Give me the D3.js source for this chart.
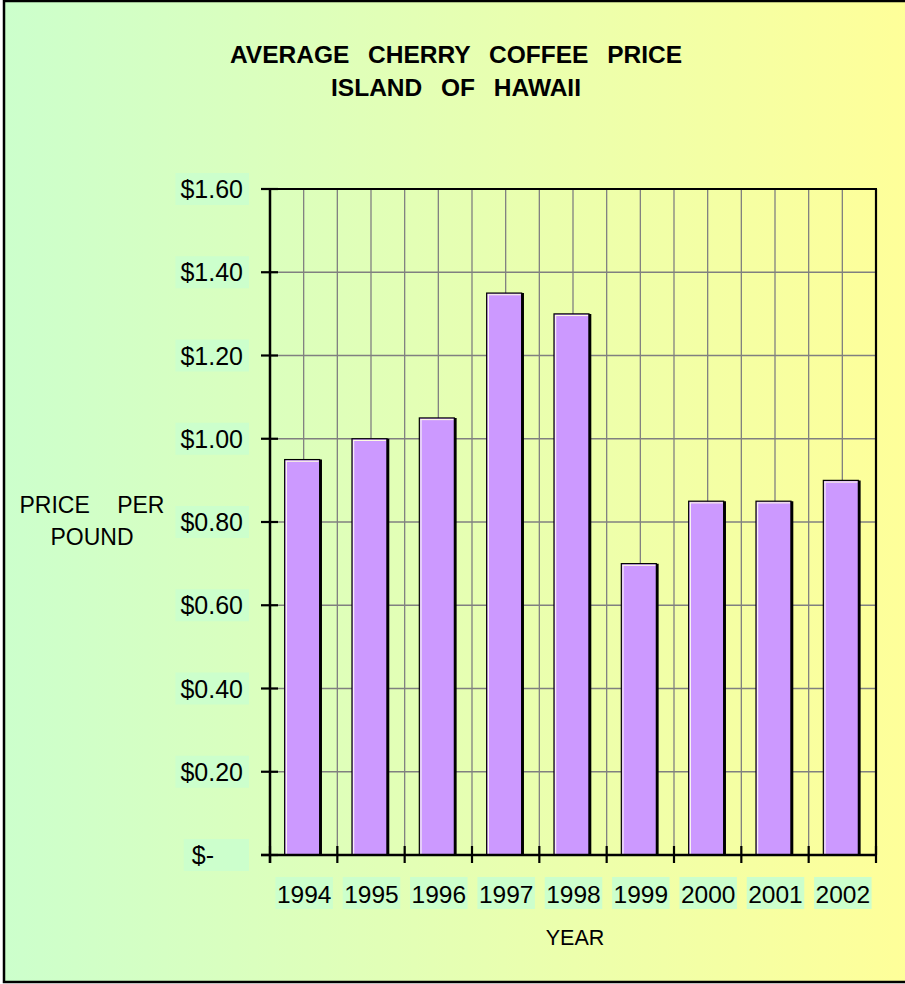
<!DOCTYPE html>
<html>
<head>
<meta charset="utf-8">
<script src="https://cdn.jsdelivr.net/npm/d3@7/dist/d3.min.js"></script>
<style>
  html, body { margin: 0; padding: 0; background: #fff; }
  svg { display: block; font-family: "Liberation Sans", Arial, sans-serif; }
</style>
</head>
<body>
<svg id="chart" width="905" height="984"></svg>
<script>
const titleLines = ["AVERAGE CHERRY COFFEE PRICE", "ISLAND OF HAWAII"];
const yTitleLines = ["PRICE PER", "POUND"];
const xTitle = "YEAR";
const categories = ["1994", "1995", "1996", "1997", "1998", "1999", "2000", "2001", "2002"];
const prices = [0.95, 1.00, 1.05, 1.35, 1.30, 0.70, 0.85, 0.85, 0.90];
const yTicks = [0, 0.2, 0.4, 0.6, 0.8, 1.0, 1.2, 1.4, 1.6];

const svg = d3.select("#chart");
const W = 905, H = 984;
const plot = { left: 270, right: 876, top: 189, bottom: 855 };

// background gradient
const defs = svg.append("defs");
const grad = defs.append("linearGradient").attr("id", "bg").attr("x1", "0%").attr("x2", "100%").attr("y1", "0%").attr("y2", "0%");
grad.append("stop").attr("offset", "0%").attr("stop-color", "#CCFFCC");
grad.append("stop").attr("offset", "100%").attr("stop-color", "#FFFF99");
svg.append("rect").attr("x", 4).attr("y", 1).attr("width", W + 4).attr("height", 981)
  .attr("fill", "url(#bg)").attr("stroke", "#000").attr("stroke-width", 2.5);

const x = d3.scaleBand().domain(categories).range([plot.left, plot.right])
  .paddingInner(0.48).paddingOuter(0.24);
const y = d3.scaleLinear().domain([0, 1.6]).range([plot.bottom, plot.top]);
const step = x.step();
const boundary = i => plot.left + i * step;
const center = c => x(c) + x.bandwidth() / 2;

// gridlines
const grid = svg.append("g").attr("stroke", "#808080").attr("stroke-width", 1.3);
const vLines = [];
categories.forEach((c, i) => { vLines.push(boundary(i)); vLines.push(center(c)); });
vLines.push(boundary(categories.length));
grid.selectAll("line.v").data(vLines).join("line").attr("class", "v")
  .attr("x1", d => d).attr("x2", d => d).attr("y1", plot.top).attr("y2", plot.bottom);
grid.selectAll("line.h").data(yTicks).join("line").attr("class", "h")
  .attr("x1", plot.left).attr("x2", plot.right).attr("y1", d => y(d)).attr("y2", d => y(d));

// bars
const bars = svg.append("g");
const bw = x.bandwidth();
const data = categories.map((c, i) => ({ c, v: prices[i] }));
const bg = bars.selectAll("g").data(data).join("g");
bg.append("rect")
  .attr("x", d => x(d.c) - 1.5).attr("y", d => y(d.v))
  .attr("width", bw).attr("height", d => y(0) - y(d.v))
  .attr("fill", "#CC99FF").attr("stroke", "#000").attr("stroke-width", 1.2);
bg.append("line")
  .attr("x1", d => x(d.c) - 1.5 + 1.7).attr("x2", d => x(d.c) - 1.5 + 1.7)
  .attr("y1", d => y(d.v) + 1.5).attr("y2", y(0))
  .attr("stroke", "#FFFFF0").attr("stroke-width", 1);
bg.append("line")
  .attr("x1", d => x(d.c) - 1.5 + 1.2).attr("x2", d => x(d.c) - 1.5 + bw - 1)
  .attr("y1", d => y(d.v) + 1.7).attr("y2", d => y(d.v) + 1.7)
  .attr("stroke", "#FFFFE0").attr("stroke-width", 1);
bg.append("line")
  .attr("x1", d => x(d.c) - 1.5 + bw + 1).attr("x2", d => x(d.c) - 1.5 + bw + 1)
  .attr("y1", d => y(d.v)).attr("y2", y(0))
  .attr("stroke", "#000").attr("stroke-width", 2.6);

// frame top & right
const frame = svg.append("g").attr("stroke", "#000").attr("stroke-width", 2.2);
frame.append("line").attr("x1", plot.left).attr("x2", plot.right + 1).attr("y1", plot.top).attr("y2", plot.top);
frame.append("line").attr("x1", plot.right).attr("x2", plot.right).attr("y1", plot.top).attr("y2", plot.bottom);

// axes
const axG = svg.append("g").attr("stroke", "#000");
axG.append("line").attr("x1", plot.left).attr("x2", plot.left).attr("y1", plot.top - 1).attr("y2", plot.bottom + 8)
  .attr("stroke-width", 2.5);
axG.append("line").attr("x1", plot.left - 9).attr("x2", plot.right + 1).attr("y1", plot.bottom).attr("y2", plot.bottom)
  .attr("stroke-width", 2.5);
axG.selectAll("line.yt").data(yTicks).join("line").attr("class", "yt")
  .attr("x1", plot.left - 9).attr("x2", plot.left + 8).attr("y1", d => y(d)).attr("y2", d => y(d))
  .attr("stroke-width", 2.2);
axG.selectAll("line.xt").data(d3.range(categories.length + 1)).join("line").attr("class", "xt")
  .attr("x1", d => boundary(d)).attr("x2", d => boundary(d)).attr("y1", plot.bottom - 9).attr("y2", plot.bottom + 8)
  .attr("stroke-width", 2.2);

// y tick labels
const fmt = d => d === 0 ? "$-" : "$" + d3.format(".2f")(d);
const yl = svg.append("g");
const ylg = yl.selectAll("g").data(yTicks).join("g");
const yBoxes = ylg.append("rect").attr("fill", "#CCFFCC");
const yTexts = ylg.append("text")
  .attr("x", d => d === 0 ? 214 : 243)
  .attr("y", d => y(d) + 9)
  .attr("text-anchor", "end")
  .attr("font-size", 25)
  .attr("fill", "#000")
  .text(fmt);
yTexts.each(function(d) {
  const b = this.getBBox();
  const left = d === 0 ? b.x - 8 : b.x - 5;
  d3.select(this.parentNode).select("rect")
    .attr("x", left).attr("y", y(d) - 16).attr("width", 249 - left).attr("height", 32);
});

// x tick labels
const xl = svg.append("g");
const xlg = xl.selectAll("g").data(categories).join("g");
xlg.append("rect").attr("fill", "#CCFFCC");
xlg.append("text")
  .attr("x", d => center(d) + 0.5)
  .attr("y", 903)
  .attr("text-anchor", "middle")
  .attr("font-size", 24.5)
  .attr("fill", "#000")
  .text(d => d)
  .each(function() {
    const b = this.getBBox();
    d3.select(this.parentNode).select("rect")
      .attr("x", b.x - 1.5).attr("y", 877).attr("width", b.width + 3).attr("height", 32);
  });

// titles
svg.append("g").selectAll("text").data(titleLines).join("text")
  .attr("x", 456).attr("y", (d, i) => 63 + i * 33)
  .attr("text-anchor", "middle").attr("font-size", 24.5).attr("font-weight", "bold")
  .attr("word-spacing", 12).attr("fill", "#000").text(d => d);

svg.append("g").selectAll("text").data(yTitleLines).join("text")
  .attr("x", 92).attr("y", (d, i) => 513 + i * 32)
  .attr("text-anchor", "middle").attr("font-size", 23)
  .attr("word-spacing", 21).attr("fill", "#000").text(d => d);

svg.append("text").attr("x", 575).attr("y", 945)
  .attr("text-anchor", "middle").attr("font-size", 21.5).attr("fill", "#000").text(xTitle);
</script>
</body>
</html>
